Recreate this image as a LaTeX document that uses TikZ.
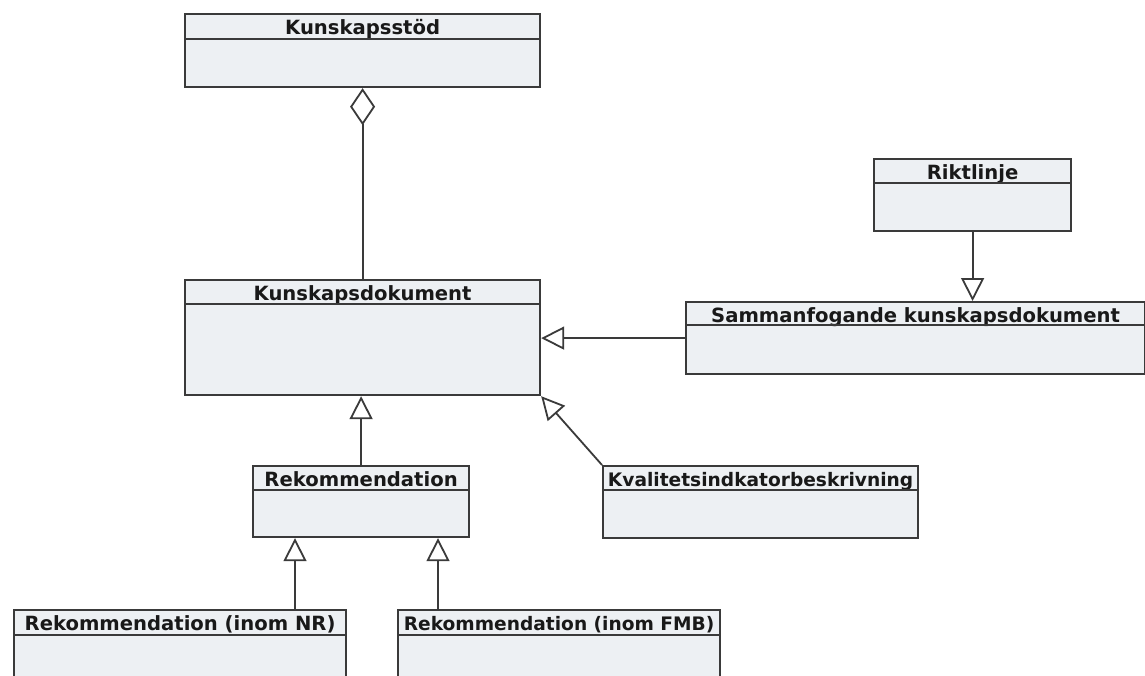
\documentclass[tikz,border=0pt]{standalone}
\usepackage{fontspec}
\setmainfont{DejaVu Sans}
\usetikzlibrary{arrows.meta}
\definecolor{klassfyll}{HTML}{EDF0F3}
\definecolor{kant}{HTML}{3A3A3A}
\begin{document}
\begin{tikzpicture}[x=1pt,y=-1pt,
  klass/.style={draw=kant,fill=klassfyll,line width=2.2pt,anchor=north west,inner sep=0pt},
  rubrik/.style={anchor=base,inner sep=0pt,font=\bfseries\fontsize{19.6}{19.6}\selectfont,text=black!90},
  trang/.style={font=\bfseries\fontsize{18.6}{18.6}\selectfont},
  delning/.style={draw=kant,line width=1.8pt},
  arv/.style={draw=kant,line width=1.8pt,-{Triangle[open,length=23pt,width=23pt,line width=1.8pt]}},
  agg/.style={draw=kant,line width=1.8pt,-{Diamond[open,length=37pt,width=25pt,line width=1.8pt]}}]
\useasboundingbox[fill=white] (0,0) rectangle (1145,675);
%\draw[step=50,gray,very thin] (0,0) grid (1145,675); %hjalpnat
% klasser
\node[klass,minimum width=355,minimum height=73] (stod) at (184,13) {};
\node[klass,minimum width=355,minimum height=115] (kd) at (184,279) {};
\node[klass,minimum width=197,minimum height=72] (rik) at (873,158) {};
\node[klass,minimum width=459,minimum height=72] (samm) at (685,301) {};
\node[klass,minimum width=216,minimum height=71] (rek) at (252,465) {};
\node[klass,minimum width=315,minimum height=72] (kval) at (602,465) {};
\node[klass,minimum width=332,minimum height=90] (nr) at (13,609) {};
\node[klass,minimum width=322,minimum height=90] (fmb) at (397,609) {};
% rubriker
\node[rubrik] (stodnamn) at ([yshift=-21pt]stod.north) {Kunskapsstöd};
\node[rubrik] (kdnamn) at ([yshift=-21pt]kd.north) {Kunskapsdokument};
\node[rubrik] (riknamn) at ([yshift=-21pt]rik.north) {Riktlinje};
\node[rubrik] (sammnamn) at ([yshift=-21pt]samm.north) {Sammanfogande kunskapsdokument};
\node[rubrik] (reknamn) at ([yshift=-21pt]rek.north) {Rekommendation};
\node[rubrik,trang] (kvalnamn) at ([yshift=-21pt]kval.north) {Kvalitetsindkatorbeskrivning};
\node[rubrik] (nrnamn) at ([yshift=-21pt]nr.north) {Rekommendation (inom NR)};
\node[rubrik,trang] (fmbnamn) at ([yshift=-21pt]fmb.north) {Rekommendation (inom FMB)};
\draw[delning] ([yshift=-26pt]stod.north west) -- ([yshift=-26pt]stod.north east);
\draw[delning] ([yshift=-25pt]kd.north west) -- ([yshift=-25pt]kd.north east);
\draw[delning] ([yshift=-25pt]rik.north west) -- ([yshift=-25pt]rik.north east);
\draw[delning] ([yshift=-24pt]samm.north west) -- ([yshift=-24pt]samm.north east);
\draw[delning] ([yshift=-25pt]rek.north west) -- ([yshift=-25pt]rek.north east);
\draw[delning] ([yshift=-25pt]kval.north west) -- ([yshift=-25pt]kval.north east);
\draw[delning] ([yshift=-26pt]nr.north west) -- ([yshift=-26pt]nr.north east);
\draw[delning] ([yshift=-26pt]fmb.north west) -- ([yshift=-26pt]fmb.north east);
% relationer
\draw[agg] (kd.north) -- (kd.north |- stod.south);
\draw[arv] (rik.south) -- (rik.south |- samm.north);
\draw[arv] (samm.west) -- (samm.west -| kd.east);
\draw[arv] (rek.north) -- (rek.north |- kd.south);
\draw[arv] (kval.north west) -- (kd.south east);
\coordinate (nrfot) at ([xshift=282pt]nr.north west);
\coordinate (fmbfot) at ([xshift=41pt]fmb.north west);
\draw[arv] (nrfot) -- (nrfot |- rek.south);
\draw[arv] (fmbfot) -- (fmbfot |- rek.south);
\end{tikzpicture}
\end{document}
